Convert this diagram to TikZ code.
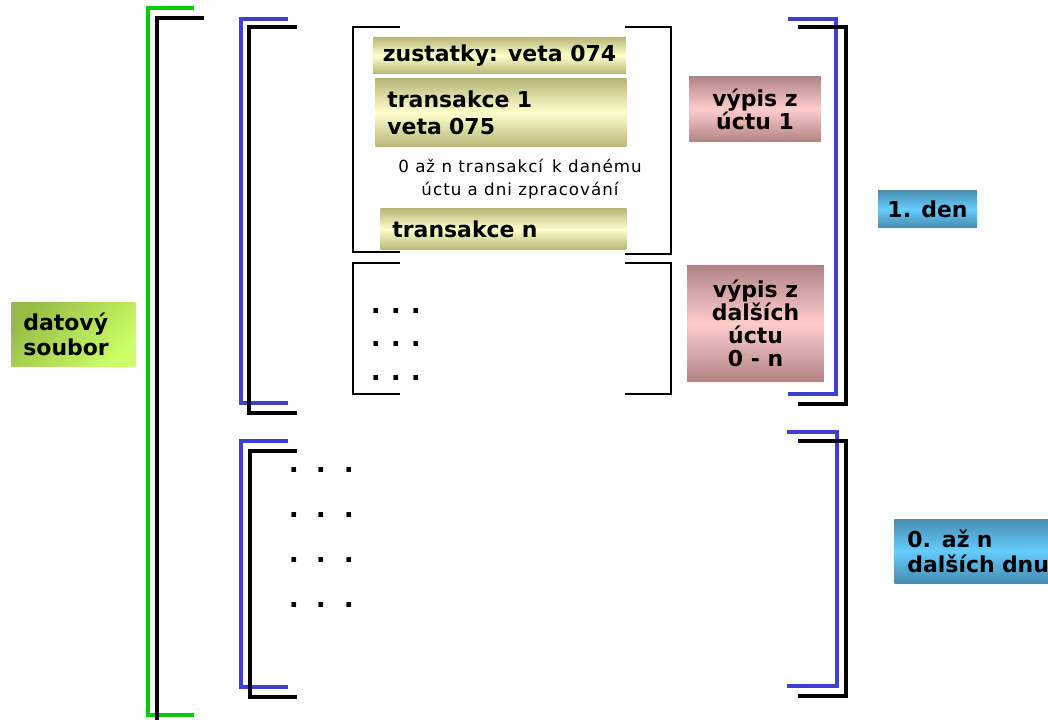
\documentclass[tikz,border=0pt]{standalone}
\usepackage{fontspec}
\setmainfont{DejaVu Sans}
\newfontfamily\popisfont{DejaVu Sans}[LetterSpace=6]
\usetikzlibrary{calc}

\definecolor{olivatm}{RGB}{183,181,118}
\definecolor{olivasv}{RGB}{255,255,204}
\definecolor{ruzetm}{RGB}{176,132,132}
\definecolor{ruzesv}{RGB}{255,204,204}
\definecolor{modratm}{RGB}{70,140,175}
\definecolor{modrasv}{RGB}{102,204,255}
\definecolor{zelenatm}{RGB}{150,190,70}
\definecolor{zelenasv}{RGB}{204,255,102}
\definecolor{zavmodra}{RGB}{64,64,208}
\definecolor{zavzelena}{RGB}{0,204,0}

\tikzset{
  stitek/.style={inner sep=0pt, font=\fontsize{12.5}{14.2}\selectfont\bfseries},
  zaznam/.style={stitek, top color=olivatm, bottom color=olivatm, middle color=olivasv},
  vypis/.style={stitek, align=center, top color=ruzetm, bottom color=ruzetm, middle color=ruzesv,
    font=\fontsize{12.5}{13}\selectfont\bfseries},
  den/.style={stitek, top color=modratm, bottom color=modratm, middle color=modrasv},
  soubor/.style={stitek, top color=zelenatm, bottom color=zelenasv, shading angle=45},
  vlevo/.style={align=left, anchor=west, inner xsep=0.24cm},
  modra/.style={zavmodra, line width=1.8pt},
  cerna/.style={line width=2.1pt},
  tenka/.style={line width=1.2pt},
  tecka/.style={anchor=base, inner sep=0pt, font=\fontsize{15}{16}\selectfont\bfseries}
}

\begin{document}
\begin{tikzpicture}[x=0.02cm,y=-0.02cm]
  \useasboundingbox (0,0) rectangle (1048,720);

  % datovy soubor
  \draw[zavzelena, line width=1.8pt] (194,8) -- (148,8) -- (148,715) -- (194,715);
  \draw[cerna] (204,18) -- (157,18) -- (157,721);

  % 1. den
  \draw[modra] (288,19) -- (241,19) -- (241,403) -- (288,403);
  \draw[cerna] (297,27) -- (249,27) -- (249,413) -- (297,413);
  \draw[modra] (788,19) -- (836,19) -- (836,394) -- (788,394);
  \draw[cerna] (798,27) -- (846,27) -- (846,404) -- (798,404);

  % dalsi dny
  \draw[modra] (288,441) -- (241,441) -- (241,687) -- (288,687);
  \draw[cerna] (297,451) -- (250,451) -- (250,697) -- (297,697);
  \draw[modra] (787,432) -- (837,432) -- (837,686) -- (787,686);
  \draw[cerna] (798,441) -- (846,441) -- (846,696) -- (798,696);

  % ucet 1
  \draw[tenka] (400,27) -- (353,27) -- (353,252) -- (400,252);
  \draw[tenka] (625,27) -- (671,27) -- (671,254) -- (625,254);
  % dalsi ucty
  \draw[tenka] (400,263) -- (353,263) -- (353,394) -- (400,394);
  \draw[tenka] (625,263) -- (671,263) -- (671,394) -- (625,394);

  % vety
  \node[zaznam, minimum width=5.06cm, minimum height=0.74cm] (zustatky) at (499.5,55.5)
    {zustatky: veta 074};
  \node[zaznam, vlevo, text width=4.54cm, minimum height=1.38cm] (trans1) at (375,112.5)
    {transakce 1\\[1pt]veta 075};
  \node[align=center, inner sep=0pt, font=\popisfont\fontsize{9.5}{13}\selectfont] (popis) at (520,179)
    {0 až n transakcí\, k danému\\úctu a dni zpracování};
  \node[zaznam, vlevo, text width=4.44cm, minimum height=0.84cm] (transn) at (380,229)
    {transakce n};

  % vypisy
  \node[vypis, minimum width=2.64cm, minimum height=1.32cm] (vypis1) at (755,109)
    {výpis z\\úctu 1};
  \node[vypis, minimum width=2.74cm, minimum height=2.34cm] (vypisn) at (755.5,323.5)
    {výpis z\\dalších\\úctu\\0 - n};

  % dny a soubor
  \node[den, minimum width=1.98cm, minimum height=0.76cm] (den1) at (927.5,209) {1. den};
  \node[den, vlevo, inner xsep=0.26cm, text width=2.9cm, minimum height=1.28cm] (dnyn) at (894,551)
    {0. až n\\dalších dnu};
  \node[soubor, vlevo, text width=2.0cm, minimum height=1.3cm] (datsoubor) at (11,334.5)
    {datový\\soubor};

  % routine for dots
  \foreach \y in {311,344,378}
    \foreach \x in {376,396,416}
      \node[tecka] (u-\x-\y) at (\x,\y+2.5) {.};
  \foreach \y in {470,515,560,605}
    \foreach \x in {294,321,349}
      \node[tecka] (d-\x-\y) at (\x,\y+2.5) {.};
\end{tikzpicture}
\end{document}
